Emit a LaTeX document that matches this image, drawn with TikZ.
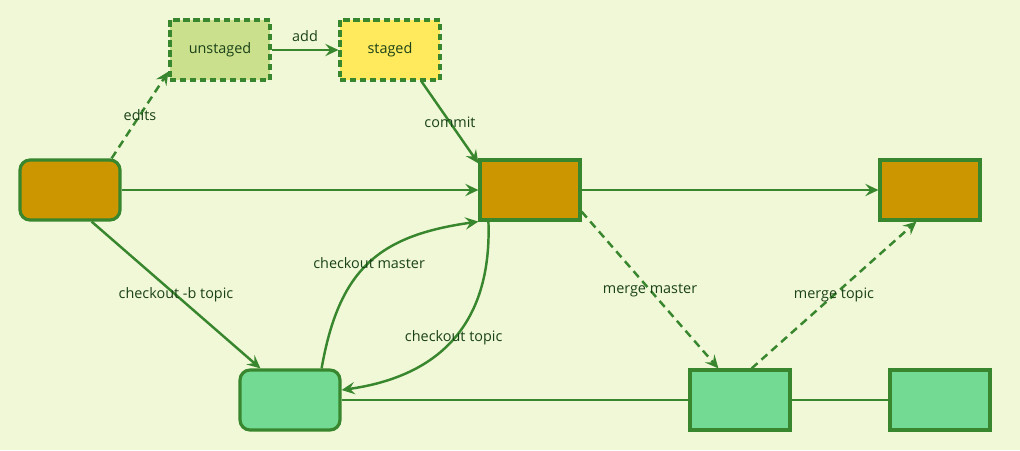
\documentclass[tikz,border=0pt]{standalone}
\usepackage{fontspec}
\setmainfont{Open Sans}
\usetikzlibrary{positioning, arrows.meta}
\definecolor{bg}{RGB}{241,248,216}
\definecolor{edge}{RGB}{56,134,45}
\definecolor{txt}{RGB}{26,66,24}
\definecolor{master}{RGB}{204,150,0}
\definecolor{topic}{RGB}{114,218,146}
\definecolor{work}{RGB}{203,224,140}
\definecolor{stage}{RGB}{255,233,92}

\begin{document}
\begin{tikzpicture}[
    x=0.02cm, y=-0.02cm,
    >={Stealth[length=7.5pt, width=7pt, inset=2.8pt]},
    every node/.style={font=\fontsize{8.2}{10}\selectfont, text=txt},
    commit/.style={draw=edge, line width=1.8pt, minimum width=2cm, minimum height=1.2cm, inner sep=0pt},
    tip/.style={commit, rounded corners=0.2cm},
    area/.style={commit, dash pattern=on 3.5pt off 2.2pt},
    arrow/.style={->, draw=edge, line width=1.4pt},
    plain/.style={draw=edge, line width=1.4pt},
    dasharrow/.style={arrow, dash pattern=on 4.5pt off 3pt}
]
    \fill[bg] (0,0) rectangle (1020,450);

    % master branch
    \node[tip, fill=master] (m1) at (70,190) {};
    \node[commit, fill=master] (m2) at (530,190) {};
    \node[commit, fill=master] (m3) at (930,190) {};

    % working tree and index
    \node[area, fill=work] (unstaged) at (220,50) {unstaged};
    \node[area, fill=stage] (staged) at (390,50) {staged};

    % topic branch
    \node[tip, fill=topic] (t1) at (290,400) {};
    \node[commit, fill=topic] (t2) at (740,400) {};
    \node[commit, fill=topic] (t3) at (940,400) {};

    \draw[dasharrow] ([xshift=-0.2cm]m1.north east) -- node {edits} ([yshift=0.2cm]unstaged.south west);
    \draw[arrow] (unstaged) -- node[above=1pt] {add} (staged);
    \draw[arrow] ([xshift=-0.4cm]staged.south east) -- node {commit} ([yshift=-0.1cm]m2.north west);
    \draw[arrow] (m1) -- (m2);
    \draw[arrow] ([xshift=-0.6cm]m1.south east) -- node {checkout -b topic} ([xshift=0.44cm]t1.north west);
    \draw[arrow] ([xshift=-0.4cm]t1.north east) to[out=80, in=188, looseness=1.2] node[pos=0.5] {checkout master} (m2.south west);
    \draw[arrow] ([xshift=0.2cm]m2.south west) to[out=-88, in=8, looseness=1.15] node[pos=0.5] {checkout topic} ([yshift=0.2cm]t1.east);
    \draw[arrow] (m2) -- (m3);
    \draw[dasharrow] ([yshift=0.2cm]m2.south east) -- node {merge master} ([xshift=0.6cm]t2.north west);
    \draw[dasharrow] ([xshift=-0.8cm]t2.north east) -- node {merge topic} ([xshift=0.76cm]m3.south west);
    \draw[plain] (t1) -- (t2);
    \draw[plain] (t2) -- (t3);
\end{tikzpicture}
\end{document}
